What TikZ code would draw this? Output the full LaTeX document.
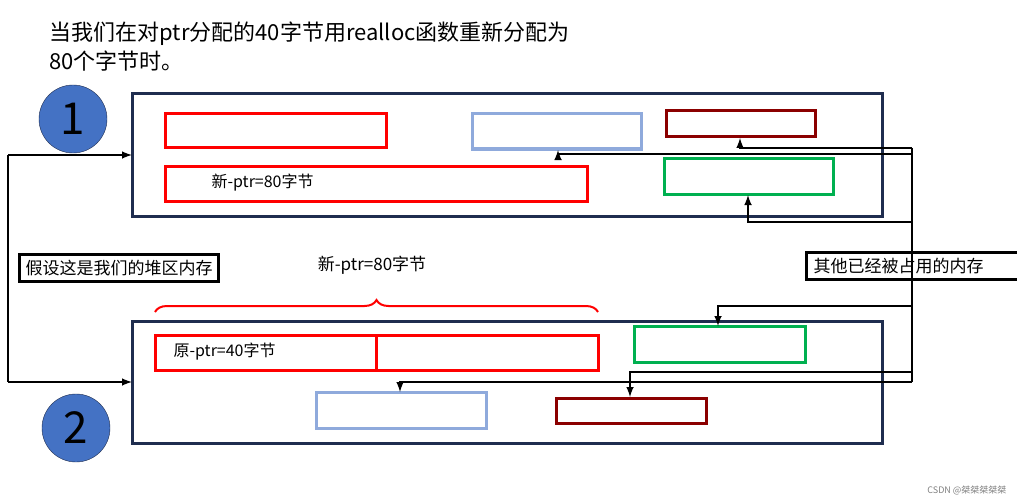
\documentclass[tikz,border=0pt]{standalone}
\usepackage{fontspec}
\setmainfont{Noto Sans CJK SC}
\usetikzlibrary{decorations.pathreplacing}
\definecolor{navy}{HTML}{1F2D4F}
\definecolor{lblue}{HTML}{8FAADC}
\definecolor{dred}{HTML}{8B0000}
\definecolor{mgreen}{HTML}{00B050}
\definecolor{cblue}{HTML}{4472C4}
\tikzset{%
  frame/.style={draw=navy, line width=3pt},
  block/.style={line width=3pt},
  tag/.style={draw, line width=3pt, inner sep=6pt, font=\fontsize{17}{17}\selectfont},
  badge/.style={circle, draw=navy, fill=cblue, minimum size=68pt, font=\fontsize{44}{44}\selectfont},
  wire/.style={line width=2.4pt, -latex},
}
\begin{document}
\begin{tikzpicture}[x=1pt, y=-1pt]
  \useasboundingbox (0,0) rectangle (1017,500);

  \node [anchor=west, font=\fontsize{22}{29}\selectfont, align=left] (title) at (46,47)
    {当我们在对ptr分配的40字节用realloc函数重新分配为\\80个字节时。};

  % heap 1
  \draw [frame] (132,94) rectangle (882,216);
  \draw [block, draw=red] (165,114) rectangle (386,148);
  \draw [block, draw=lblue] (472,114) rectangle (641,149);
  \draw [block, draw=dred] (666,111) rectangle (815,137);
  \draw [block, draw=red] (165,166) rectangle (587,201);
  \node [anchor=west, font=\fontsize{16}{16}\selectfont] (new1) at (208,183) {新-ptr=80字节};
  \draw [block, draw=mgreen] (664,158) rectangle (833,194);
  \node [badge] (one) at (73,119) {1};

  % heap 2
  \draw [frame] (132,321) rectangle (882,443);
  \draw [block, draw=red] (155,335) rectangle (598,370);
  \draw [block, draw=red] (376,335) -- (376,370);
  \node [anchor=west, font=\fontsize{16}{16}\selectfont] (old) at (170,352) {原-ptr=40字节};
  \draw [block, draw=mgreen] (634,326) rectangle (805,362);
  \draw [block, draw=lblue] (316,392) rectangle (486,428);
  \draw [block, draw=dred] (556,398) rectangle (706,423);
  \node [badge] (two) at (76,428) {2};

  % brace
  \draw [red, line width=2pt, decorate, decoration={brace, amplitude=12pt}]
    (155,312) -- (598,312);
  \node [font=\fontsize{17}{17}\selectfont] (new2) at (372,265) {新-ptr=80字节};

  % labels
  \node [tag, anchor=west] (heap) at (18,268) {假设这是我们的堆区内存};
  \node [tag, anchor=west, minimum width=214pt, align=left, text width=200pt] (other) at (805,266) {其他已经被占用的内存};

  \coordinate (lt) at (8,155);
  \coordinate (lb) at (8,382);
  \draw [wire] (lt) -- (132,155);
  \draw [wire] (lb) -- (132,382);
  \draw [line width=2.4pt] (lt) -- (lb);

  % right connectors
  \draw [line width=2.4pt] (912,148) -- (912,382);
  \draw [wire] (912,148) -- (740,148) -- (740,138);
  \draw [wire] (912,154) -- (558,154) -- (558,150);
  \draw [wire] (912,222) -- (748,222) -- (748,195);
  \draw [wire] (912,306) -- (718,306) -- (718,326);
  \draw [wire] (912,372) -- (630,372) -- (630,397);
  \draw [wire] (912,382) -- (400,382) -- (400,392);

  \node [anchor=east, gray, font=\fontsize{9}{9}\selectfont] (mark) at (1010,490) {CSDN @桀桀桀桀桀};
\end{tikzpicture}
\end{document}
